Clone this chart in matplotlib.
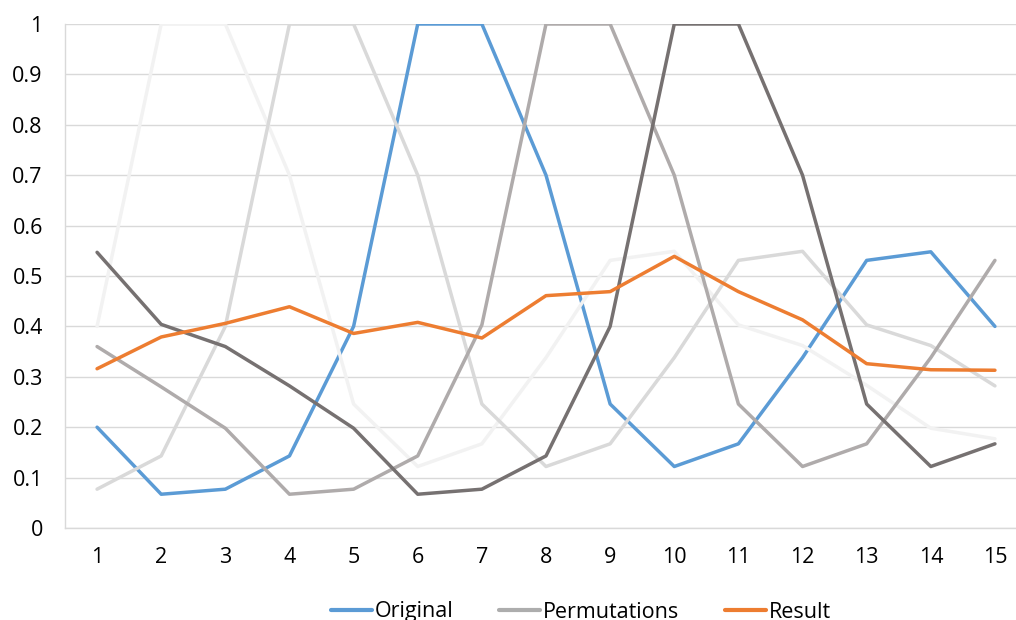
import numpy as np
import matplotlib.pyplot as plt

# data
positions = np.arange(1, 16)
original = [0.2, 0.067, 0.077, 0.143, 0.4, 1, 1, 0.7, 0.246, 0.122, 0.167, 0.338, 0.531, 0.548, 0.4]
perm_a = [0.4, 1, 1, 0.7, 0.246, 0.122, 0.167, 0.338, 0.531, 0.549, 0.403, 0.362, 0.283, 0.198, 0.177]
perm_b = [0.077, 0.143, 0.4, 1, 1, 0.7, 0.246, 0.122, 0.167, 0.338, 0.531, 0.549, 0.403, 0.362, 0.282]
perm_c = [0.36, 0.28, 0.198, 0.067, 0.077, 0.143, 0.403, 1, 1, 0.7, 0.246, 0.122, 0.167, 0.338, 0.531]
perm_d = [0.547, 0.404, 0.36, 0.282, 0.198, 0.067, 0.077, 0.143, 0.4, 1, 1, 0.7, 0.246, 0.122, 0.167]
result = [0.316, 0.379, 0.406, 0.439, 0.386, 0.408, 0.377, 0.461, 0.469, 0.539, 0.469, 0.413, 0.326, 0.314, 0.313]

perms = [perm_a, perm_b, perm_c, perm_d]
perm_colors = ['#f2f2f2', '#d9d9d9', '#afabab', '#767171']

plt.rcParams['font.family'] = ['Open Sans', 'DejaVu Sans']
plt.rcParams['font.size'] = 15.5

fig = plt.figure(figsize=(10.16, 6.2), dpi=100)
ax = fig.add_axes([65 / 1016, 92 / 620, 962 / 1016, 504 / 620])

lw = 2.5
ax.plot(positions, original, color='#5b9bd5', lw=lw, solid_capstyle='round', zorder=3)
for vals, c in zip(perms, perm_colors):
    ax.plot(positions, vals, color=c, lw=lw, solid_capstyle='round', zorder=3)
ax.plot(positions, result, color='#ed7d31', lw=lw, solid_capstyle='round', zorder=4)

ax.set_xlim(0.5, 15.5)
ax.set_ylim(0, 1)
ax.set_xticks(positions)
ax.set_yticks(np.arange(0, 1.01, 0.1))
ax.set_yticklabels(['0', '0.1', '0.2', '0.3', '0.4', '0.5', '0.6', '0.7', '0.8', '0.9', '1'])
ax.tick_params(length=0, colors='#000000')
ax.tick_params(axis='x', pad=14)
ax.tick_params(axis='y', pad=16)
ax.grid(axis='y', color='#d9d9d9', lw=1)
ax.set_axisbelow(True)
for side in ['top', 'right']:
    ax.spines[side].set_visible(False)
ax.spines['left'].set_color('#d9d9d9')
ax.spines['bottom'].set_color('#d9d9d9')
ax.spines['left'].set_linewidth(1)
ax.spines['bottom'].set_linewidth(1)

# legend with a single gray entry for all permutations
handles = [
    plt.Line2D([], [], color='#5b9bd5', lw=lw + 0.5, solid_capstyle='round'),
    plt.Line2D([], [], color='#adadad', lw=lw + 0.5, solid_capstyle='round'),
    plt.Line2D([], [], color='#ed7d31', lw=lw + 0.5, solid_capstyle='round'),
]
fig.legend(handles, ['Original', 'Permutations', 'Result'], loc='center',
           bbox_to_anchor=(581 / 1016, 8 / 620), ncol=3, frameon=False,
           handlelength=1.9, handletextpad=0.15, columnspacing=2.1)

fig.savefig('out.png', dpi=100)
